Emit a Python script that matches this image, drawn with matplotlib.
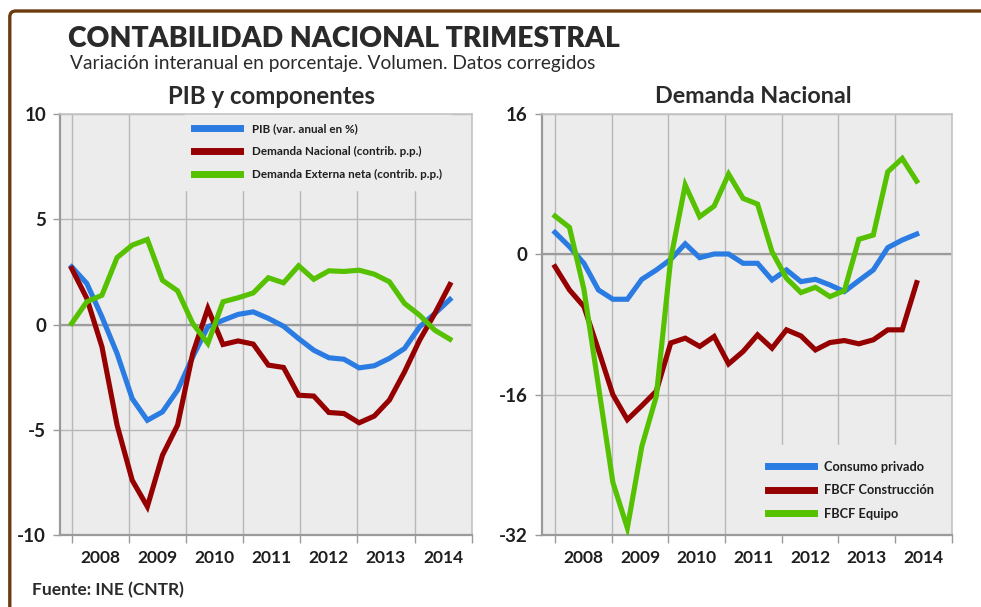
import matplotlib
matplotlib.use('Agg')
import matplotlib.pyplot as plt
from matplotlib.patches import FancyBboxPatch
from matplotlib.transforms import IdentityTransform
import numpy as np

plt.rcParams['font.family'] = ['Lato', 'DejaVu Sans']

# ---------------- data (2008Q1 .. 2014Q2) ----------------
years = ['2008', '2009', '2010', '2011', '2012', '2013', '2014']
quarters = list(range(26))

pib = [2.74, 1.95, 0.36, -1.38, -3.52, -4.55, -4.15, -3.12, -1.54, -0.11,
       0.2, 0.48, 0.6, 0.29, -0.08, -0.67, -1.22, -1.58, -1.65, -2.06,
       -1.96, -1.61, -1.14, -0.11, 0.52, 1.19]
demanda_nacional = [2.66, 1.24, -1.06, -4.78, -7.4, -8.65, -6.21, -4.78, -1.38, 0.76,
                    -0.95, -0.78, -0.93, -1.93, -2.04, -3.36, -3.4, -4.18, -4.23, -4.67,
                    -4.35, -3.59, -2.25, -0.74, 0.52, 1.9]
demanda_externa = [0.05, 1.08, 1.39, 3.18, 3.77, 4.04, 2.1, 1.6, 0.05, -0.9,
                   1.08, 1.27, 1.5, 2.22, 1.98, 2.79, 2.15, 2.55, 2.52, 2.58,
                   2.39, 2.03, 1.0, 0.44, -0.27, -0.7]

consumo = [2.5, 0.87, -1.03, -4.06, -5.12, -5.12, -2.85, -1.79, -0.57, 1.2,
           -0.38, 0.04, 0.04, -1.02, -1.02, -2.92, -1.78, -3.11, -2.85, -3.49,
           -4.25, -3.0, -1.78, 0.76, 1.63, 2.31]
construccion = [-1.41, -4.06, -5.96, -10.9, -16.0, -18.85, -17.26, -15.6, -10.1, -9.56,
                -10.5, -9.37, -12.49, -11.08, -9.18, -10.7, -8.61, -9.3, -10.9, -10.06,
                -9.83, -10.2, -9.75, -8.61, -8.61, -3.23]
equipo = [4.36, 3.07, -4.0, -15.0, -26.0, -31.2, -21.9, -16.2, -0.5, 7.9,
          4.29, 5.5, 9.15, 6.38, 5.73, 0.3, -2.73, -4.36, -3.76, -4.82,
          -4.14, 1.71, 2.2, 9.41, 10.93, 8.35]

left_yticks = [10, 5, 0, -5, -10]
right_yticks = [16, 0, -16, -32]

left_labels = ['PIB (var. anual en %)', 'Demanda Nacional (contrib. p.p.)',
               'Demanda Externa neta (contrib. p.p.)']
right_labels = ['Consumo privado', 'FBCF Construcción', 'FBCF Equipo']

# ---------------- style ----------------
BLUE = '#2a7be2'
RED = '#950000'
GREEN = '#55c100'
BG = '#ececec'
GRID = '#b8b8b8'
AXC = '#9a9a9a'
TXT = '#1e1e1e'
BROWN = '#6b3a0e'
LW = 3.7

W, H = 981, 607
fig = plt.figure(figsize=(W / 100, H / 100), dpi=100)
fig.patch.set_facecolor('white')


def fx(x):
    return x / W


def fy(y):
    return 1 - y / H


def style_axes(ax, xmin, xmax, first_tick, step, ylim, yticks):
    ax.set_facecolor(BG)
    ax.set_xlim(xmin, xmax)
    ax.set_ylim(*ylim)
    major = [first_tick + k * step for k in range(8)]
    minor = [first_tick + (k + 0.5) * step for k in range(7)]
    ax.set_xticks(major)
    ax.set_xticklabels([])
    ax.set_xticks(minor, minor=True)
    ax.set_xticklabels(years, minor=True)
    ax.set_yticks(yticks)
    ax.set_yticklabels([str(v) for v in yticks])
    ax.tick_params(axis='x', which='major', length=6, width=1, color=AXC, direction='out')
    ax.tick_params(axis='x', which='minor', length=0, pad=11, labelsize=12.5,
                   labelcolor=TXT)
    ax.tick_params(axis='y', length=5, width=1, color=AXC, direction='out', pad=5,
                   labelsize=13.5, labelcolor=TXT)
    for lab in ax.get_xticklabels(minor=True) + ax.get_yticklabels():
        lab.set_fontweight('bold')
    ax.grid(True, axis='x', which='major', color=GRID, lw=1)
    ax.grid(True, axis='y', which='major', color=GRID, lw=1)
    ax.axhline(0, color='#9c9c9c', lw=1.6, zorder=1.5)
    ax.set_axisbelow(True)
    for s in ['left', 'bottom']:
        ax.spines[s].set_color(AXC)
        ax.spines[s].set_linewidth(1.6)
    for s in ['top', 'right']:
        ax.spines[s].set_color('#c4c4c4')
        ax.spines[s].set_linewidth(1.2)


# ---------------- left panel ----------------
ax1 = fig.add_axes([fx(60), fy(535), fx(471.7) - fx(60), (535 - 114) / H])
style_axes(ax1, -0.773, 26.44, 0.0, 26.44 / 7, (-10, 10), left_yticks)
l1, = ax1.plot(quarters, pib, color=BLUE, lw=LW, solid_joinstyle='miter', zorder=3)
l2, = ax1.plot(quarters, demanda_nacional, color=RED, lw=LW, solid_joinstyle='miter', zorder=3)
l3, = ax1.plot(quarters, demanda_externa, color=GREEN, lw=LW, solid_joinstyle='miter', zorder=3)
leg1 = ax1.legend([l1, l2, l3], left_labels, loc='upper left',
                  bbox_to_anchor=((185 - 60) / 411.7, 1.0), fontsize=8.4,
                  frameon=True, facecolor=BG, edgecolor=BG, framealpha=1, fancybox=False,
                  handlelength=3.9, handletextpad=1.0, labelspacing=1.02, borderpad=0.8,
                  borderaxespad=0)
leg1.set_zorder(2)
for t in leg1.get_texts():
    t.set_color(TXT)
    t.set_fontweight('bold')
for ln in leg1.get_lines():
    ln.set_linewidth(5)

# ---------------- right panel ----------------
ax2 = fig.add_axes([fx(541.7), fy(535), fx(951.7) - fx(541.7), (535 - 114) / H])
style_axes(ax2, -0.92, 27.42, 0.0, 27.42 / 7, (-32, 16), right_yticks)
r1, = ax2.plot(quarters, consumo, color=BLUE, lw=LW, solid_joinstyle='miter', zorder=3)
r2, = ax2.plot(quarters, construccion, color=RED, lw=LW, solid_joinstyle='miter', zorder=3)
r3, = ax2.plot(quarters, equipo, color=GREEN, lw=LW, solid_joinstyle='miter', zorder=3)
leg2 = ax2.legend([r1, r2, r3], right_labels, loc='lower left',
                  bbox_to_anchor=((753 - 541.7) / 410, 0.0), fontsize=9.2,
                  frameon=True, facecolor=BG, edgecolor=BG, framealpha=1, fancybox=False,
                  handlelength=3.6, handletextpad=0.75, labelspacing=0.9, borderpad=1.2,
                  borderaxespad=0)
leg2.set_zorder(2)
for t in leg2.get_texts():
    t.set_color(TXT)
    t.set_fontweight('bold')
for ln in leg2.get_lines():
    ln.set_linewidth(5)

# ---------------- texts ----------------
fig.text(fx(68), fy(39), 'CONTABILIDAD NACIONAL TRIMESTRAL', fontsize=20.3,
         fontweight='heavy', color='#2a2a2a', ha='left', va='center')
fig.text(fx(70), fy(63), 'Variación interanual en porcentaje. Volumen. Datos corregidos',
         fontsize=13.8, color='#2a2a2a', ha='left', va='center')
fig.text(fx(272), fy(97), 'PIB y componentes', fontsize=17.3, fontweight='bold',
         color='#2a2a2a', ha='center', va='center')
fig.text(fx(753), fy(97), 'Demanda Nacional', fontsize=16.8, fontweight='bold',
         color='#2a2a2a', ha='center', va='center')
fig.text(fx(32), fy(590), 'Fuente: INE (CNTR)', fontsize=12.5, fontweight='bold',
         color='#2a2a2a', ha='left', va='center')

# ---------------- brown frame ----------------
frame = FancyBboxPatch((9.8, -30), 1100, (H - 11) + 30,
                       boxstyle='round,pad=0,rounding_size=6',
                       transform=IdentityTransform(), fill=False,
                       edgecolor=BROWN, linewidth=2.4)
fig.patches.append(frame)

fig.savefig('out.png', dpi=100, facecolor='white')
